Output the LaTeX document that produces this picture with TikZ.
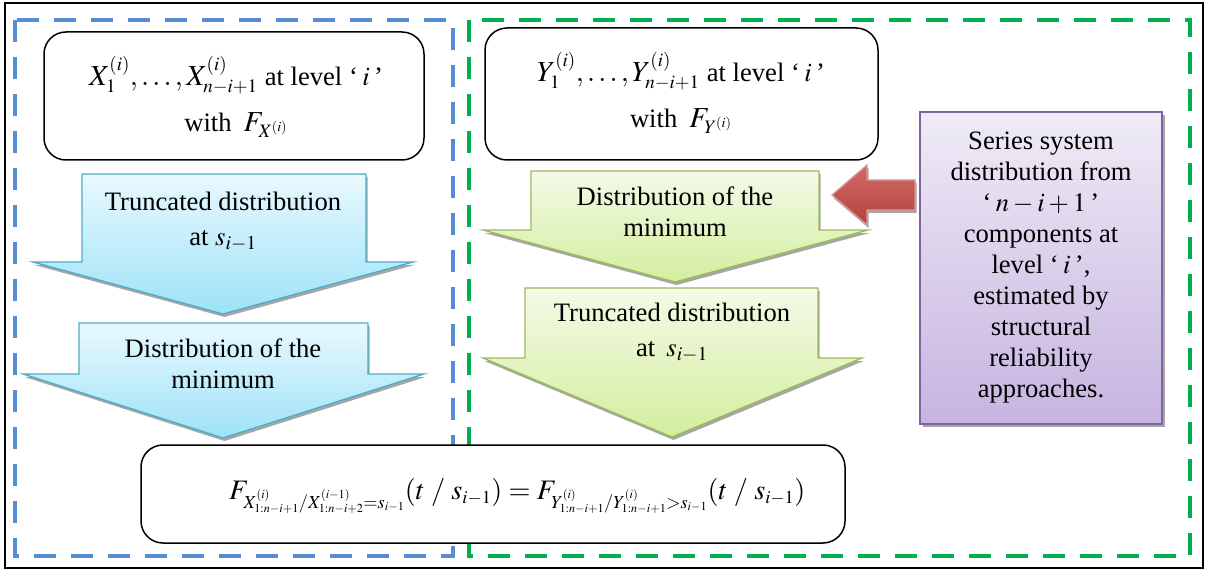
\documentclass[tikz,border=0pt]{standalone}
\usepackage{mathptmx}
\usepackage{fontspec}
\setmainfont{Liberation Serif}
\DeclareMathSizes{30}{30}{19.5}{13}
\DeclareMathSizes{29}{29}{19}{14}
\definecolor{blueD}{HTML}{558ED5}
\definecolor{greenD}{HTML}{00B050}
\definecolor{blueB}{HTML}{4BACC6}
\definecolor{blueT}{HTML}{E8F9FE}
\definecolor{blueBot}{HTML}{9EE2F7}
\definecolor{greenB}{HTML}{9BBB59}
\definecolor{greenT}{HTML}{F4FAE8}
\definecolor{greenBot}{HTML}{D3EE9E}
\definecolor{purB}{HTML}{8064A2}
\definecolor{purT}{HTML}{EFEBF6}
\definecolor{purBot}{HTML}{C6B4E0}
\definecolor{redB}{HTML}{D99694}
\definecolor{redT}{HTML}{D06B68}
\definecolor{redBot}{HTML}{B5403D}
\tikzset{
  frame/.style={draw=black, line width=1.6pt},
  bluedash/.style={draw=blueD, line width=3.8pt, dash pattern=on 22pt off 15pt},
  greendash/.style={draw=greenD, line width=3.8pt, dash pattern=on 22pt off 15pt},
  rbox/.style={draw=black, line width=1.5pt, rounded corners=22pt, fill=white, align=center, inner sep=0pt},
  bluearrow/.style={draw=blueB, line width=1.3pt, top color=blueT, bottom color=blueBot},
  greenarrow/.style={draw=greenB, line width=1.3pt, top color=greenT, bottom color=greenBot},
  redarrow/.style={draw=redB, line width=1.3pt, top color=redT, bottom color=redBot},
  purbox/.style={draw=purB, line width=1.5pt, top color=purT, bottom color=purBot, align=center, inner sep=0pt},
  shadowfill/.style={fill=black!35, draw=none},
  txt/.style={align=center, inner sep=0pt},
  bigfont/.style={font=\fontsize{26.6}{31}\selectfont},
  mathfont/.style={font=\fontsize{29}{33}\selectfont},
}
\newcommand\dnarrowshape[9]{%
  \path[shadowfill, shift={(1.5,3)}] (#2,#4) -- (#3,#4) -- (#3,#5) -- (#7,#5) -- (#8,#9) -- (#6,#5) -- (#2,#5) -- cycle;
  \path[#1] (#2,#4) -- (#3,#4) -- (#3,#5) -- (#7,#5) -- (#8,#9) -- (#6,#5) -- (#2,#5) -- cycle;
}
\begin{document}
\begin{tikzpicture}[x=1pt,y=-1pt]
\useasboundingbox (0,0) rectangle (1208,572);
% outer frame
\draw[frame] (5,3) rectangle (1203,568);
% dashed groups
\draw[bluedash] (15,20) rectangle (453,556);
\draw[greendash] (469,20) rectangle (1190,556);
% top boxes
\node[rbox, minimum width=380pt, minimum height=128pt] (xbox) at (234,96) {};
\node[txt, mathfont] (xt) at (236,97)
  {$X_1^{(i)},\ldots,X_{n-i+1}^{(i)}$\ {\fontsize{26.6}{31}\selectfont at level `\,$i$\,'}\\[13pt] {\fontsize{26.6}{31}\selectfont with}\, $F_{X^{(i)}}$};
\node[rbox, minimum width=393pt, minimum height=132pt] (ybox) at (681.5,94) {};
\node[txt, mathfont] (yt) at (681,93)
  {$Y_1^{(i)},\ldots,Y_{n-i+1}^{(i)}$\ {\fontsize{26.6}{31}\selectfont at level `\,$i$\,'}\\[13pt] {\fontsize{26.6}{31}\selectfont with}\, $F_{Y^{(i)}}$};
% blue arrows
\dnarrowshape{bluearrow}{82}{366}{174}{262}{33}{413}{223}{314}
\node[txt, bigfont] (bt1) at (223,222) {Truncated distribution\\[4pt] at $s_{i-1}$};
\dnarrowshape{bluearrow}{79}{368}{323}{374}{23}{424}{223}{438}
\node[txt, bigfont] (bt2) at (223,364) {Distribution of the\\ minimum};
% green arrows
\dnarrowshape{greenarrow}{531}{819}{171}{230}{483}{868}{675}{282}
\node[txt, bigfont] (gt1) at (675,212) {Distribution of the\\ minimum};
\dnarrowshape{greenarrow}{525}{818}{288}{358}{483}{862}{672}{437}
\node[txt, bigfont] (gt2) at (672,333) {Truncated distribution\\[4pt] at\, $s_{i-1}$};
% purple box
\fill[black!35] (923,115) rectangle (1165,427);
\node[purbox, bigfont, minimum width=242pt, minimum height=312pt] (pbox) at (1041,268)
  {Series system\\ distribution from\\ `\,$n-i+1$\,'\\ components at\\ level `\,$i$\,',\\ estimated by\\ structural\\ reliability\\ approaches.};
% red arrow
\path[shadowfill, shift={(1.5,3)}] (832,195) -- (867,165) -- (867,180) -- (915,180) -- (915,210) -- (867,210) -- (867,225) -- cycle;
\path[redarrow] (832,195) -- (867,165) -- (867,180) -- (915,180) -- (915,210) -- (867,210) -- (867,225) -- cycle;
% bottom box
\node[rbox, minimum width=704pt, minimum height=98pt] (fbox) at (493,494) {};
\node[txt, font=\fontsize{30}{36}\selectfont, anchor=west] (ft) at (229,496)
  {\resizebox{576pt}{!}{$F_{X^{(i)}_{1:n-i+1}/X^{(i-1)}_{1:n-i+2}=s_{i-1}}(t\;/\;s_{i-1}) = F_{Y^{(i)}_{1:n-i+1}/Y^{(i)}_{1:n-i+1}>s_{i-1}}(t\;/\;s_{i-1})$}};
\end{tikzpicture}
\end{document}
